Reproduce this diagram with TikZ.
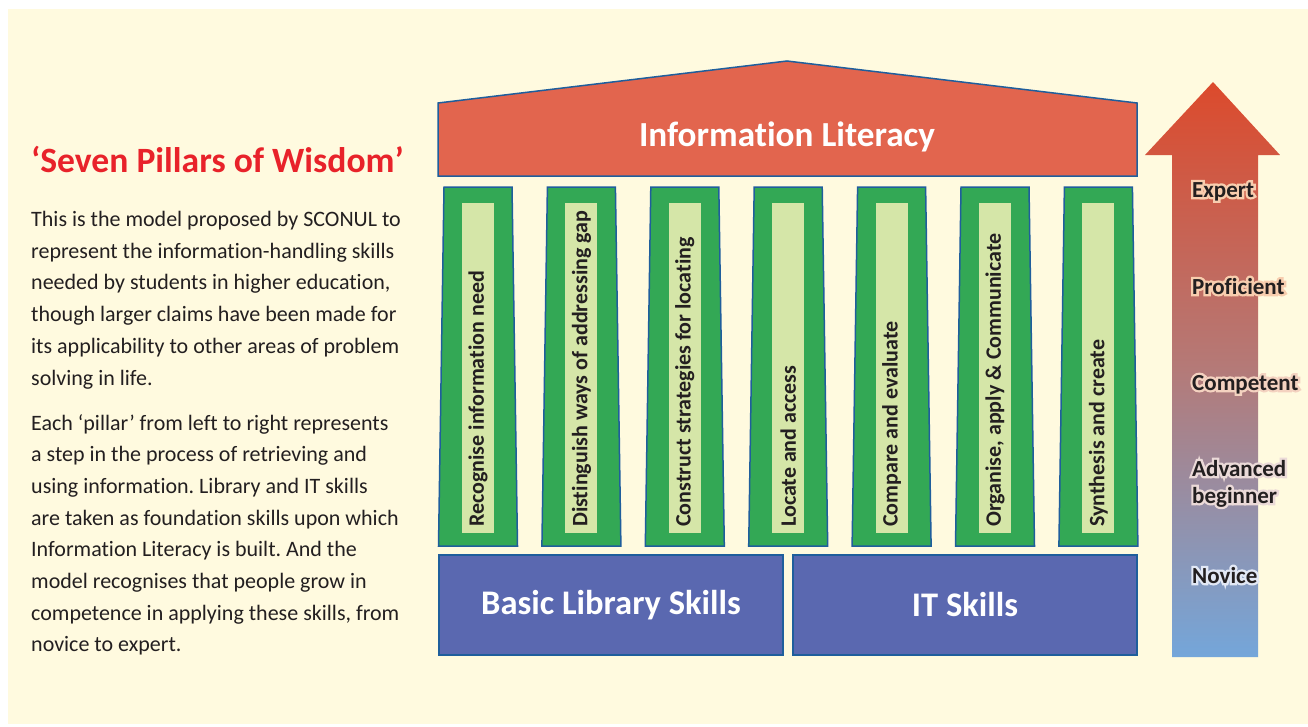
\documentclass[tikz,border=0pt]{standalone}
\usepackage{fontspec}
\setmainfont{Carlito}[RawFeature=-liga, RawFeature=-clig, RawFeature=-rlig, RawFeature=-dlig, RawFeature=-calt]
\newfontface\haloface{Carlito Bold}[FakeBold=20, RawFeature=-liga, RawFeature=-clig, RawFeature=-rlig, RawFeature=-dlig, RawFeature=-calt]
\frenchspacing
\definecolor{bg}{HTML}{FFFADF}
\definecolor{roof}{HTML}{E2654E}
\definecolor{edge}{HTML}{1F5E9C}
\definecolor{pillar}{HTML}{33A855}
\definecolor{core}{HTML}{D5E6A8}
\definecolor{base}{HTML}{5A68B0}
\definecolor{ink}{HTML}{231F20}
\definecolor{titlered}{HTML}{E8222A}
\definecolor{atop}{HTML}{DC4A2C}
\definecolor{amid}{HTML}{B47A78}
\definecolor{abot}{HTML}{74A6DA}
\definecolor{haloA}{HTML}{F8CDAE}
\definecolor{haloB}{HTML}{F4D2C0}
\definecolor{haloC}{HTML}{EBDAD8}
\definecolor{haloE}{HTML}{E2E8F5}
\pgfdeclareverticalshading{growth}{100bp}{color(0bp)=(abot); color(25bp)=(abot); color(50bp)=(amid); color(75bp)=(atop); color(100bp)=(atop)}
\tikzset{
  roofshape/.style={fill=roof, draw=edge, line width=1.5pt, line join=miter},
  pillarbox/.style={fill=pillar, draw=edge, line width=1.5pt},
  corebox/.style={fill=core},
  pillarlabel/.style={rotate=90, anchor=west, inner sep=0pt, text=ink, font=\bfseries\fontsize{22}{26}\selectfont},
  basebox/.style={fill=base, draw=edge, line width=1.5pt, minimum width=344pt, minimum height=100pt, text=white, font=\bfseries\fontsize{34.5}{40}\selectfont},
  levellabel/.style={anchor=base west, inner sep=0pt, text=ink, font=\bfseries\fontsize{23}{27}\selectfont},
  levelhalo/.style={anchor=base west, inner sep=0pt, font=\haloface\fontsize{23}{27}\selectfont},
  bodyline/.style={anchor=base west, inner sep=0pt, text=ink, font=\fontsize{22}{26}\selectfont},
}
% label with a soft coloured outline: name, x, y, outline colour, text
\newcommand\glowlabel[5]{%
  \node[levelhalo, text=#4] at (#2,#3) {#5};
  \node[levellabel] (#1) at (#2,#3) {#5};
}
\begin{document}
\begin{tikzpicture}[x=1pt, y=-1pt]
\useasboundingbox (0,0) rectangle (1308,726);
\fill[white] (0,0) rectangle (1308,726);
\fill[bg] (8,9) rectangle (1308,724);

% left-hand text
\node[anchor=base west, inner sep=0pt, text=titlered, font=\bfseries\fontsize{35.6}{42}\selectfont] (title) at (31,172.7) {‘Seven Pillars of Wisdom’};
\foreach \n/\yy/\t in {
  1/226.5/{This is the model proposed by SCONUL to},
  2/258.2/{represent the information-handling skills},
  3/289.9/{needed by students in higher education,},
  4/321.6/{though larger claims have been made for},
  5/353.3/{its applicability to other areas of problem},
  6/385.0/{solving in life.},
  7/430.0/{Each ‘pillar’ from left to right represents},
  8/461.7/{a step in the process of retrieving and},
  9/493.4/{using information. Library and IT skills},
  10/525.1/{are taken as foundation skills upon which},
  11/556.8/{Information Literacy is built. And the},
  12/588.5/{model recognises that people grow in},
  13/620.2/{competence in applying these skills, from},
  14/651.9/{novice to expert.}}
  \node[bodyline] (line\n) at (31,\yy) {\t};

% roof
\draw[roofshape] (438,176) -- (438,103) -- (787,61) -- (1137,103) -- (1137,176) -- cycle;
\node[text=white, font=\bfseries\fontsize{35.2}{40}\selectfont] (literacy) at (787,137) {Information Literacy};

% the seven pillars
\foreach \i/\t in {
  0/{Recognise information need},
  1/{Distinguish ways of addressing gap},
  2/{Construct strategies for locating},
  3/{Locate and access},
  4/{Compare and evaluate},
  5/{Organise, apply \& Communicate},
  6/{Synthesis and create}} {
  \pgfmathsetmacro\cx{478+103.4*\i}
  \draw[pillarbox] (\cx-34,187) -- (\cx+34,187) -- (\cx+39.5,546) -- (\cx-39.5,546) -- cycle;
  \fill[corebox] (\cx-16,203) rectangle (\cx+16,533);
  \node[pillarlabel] (pillar\i) at (\cx,527) {\t};
}

% foundations
\node[basebox] (library) at (611,605) {Basic Library Skills};
\node[basebox] (it) at (965,605) {IT Skills};

% novice-to-expert arrow
\path[shading=growth] (1172,657) -- (1172,155) -- (1145,155) -- (1213,82) -- (1280,155) -- (1258,155) -- (1258,657) -- cycle;
\glowlabel{expert}{1192}{197}{haloA}{Expert}
\glowlabel{proficient}{1192}{294}{haloA}{Proficient}
\glowlabel{competent}{1192}{390}{haloB}{Competent}
\glowlabel{advanced}{1192}{476}{haloC}{Advanced}
\glowlabel{beginner}{1192}{503}{haloC}{beginner}
\glowlabel{novice}{1192}{583}{haloE}{Novice}
\end{tikzpicture}
\end{document}
